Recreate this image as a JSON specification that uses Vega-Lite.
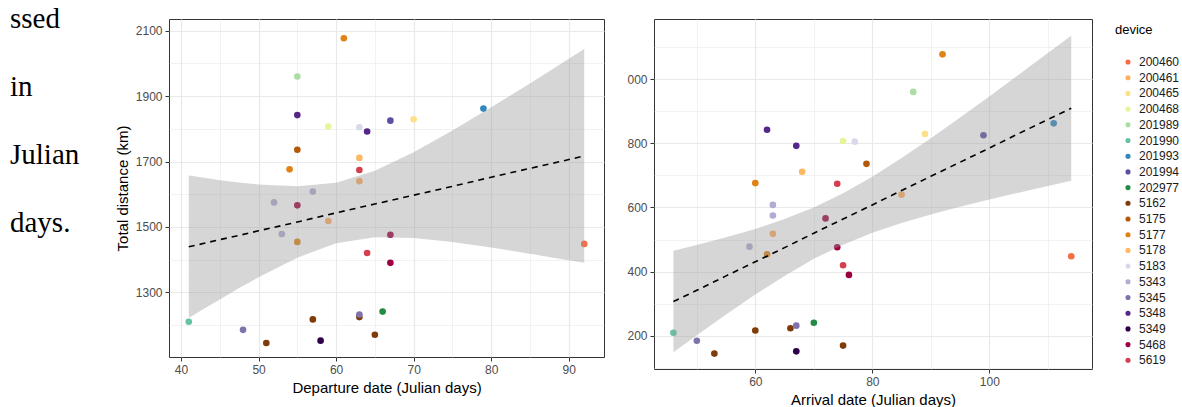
{
  "$schema": "https://vega.github.io/schema/vega-lite/v6.json",
  "padding": {"left": 10, "top": 5, "right": 5, "bottom": 5},
  "background": "white",
  "bounds": "flush",
  "spacing": 50,
  "config": {
    "font": "Liberation Sans",
    "view": {"stroke": "#333333", "strokeWidth": 1},
    "axis": {
      "domain": false,
      "labelColor": "#4d4d4d",
      "labelFontSize": 12,
      "labelFont": "Liberation Sans",
      "labelOverlap": false,
      "labelFlush": false,
      "labelPadding": 3,
      "titleFont": "Liberation Sans",
      "titleFontSize": 15,
      "titleFontWeight": "normal",
      "titleColor": "#000000",
      "titlePadding": 5,
      "tickColor": "#333333",
      "tickSize": 4,
      "gridColor": "#e9e9e9",
      "gridWidth": 1.2
    },
    "legend": {
      "titleFont": "Liberation Sans",
      "titleFontSize": 13,
      "titleFontWeight": "normal",
      "titleColor": "#000000",
      "labelFont": "Liberation Sans",
      "labelFontSize": 12,
      "labelColor": "#1a1a1a",
      "symbolType": "circle",
      "symbolSize": 26,
      "symbolStrokeWidth": 0,
      "padding": 5,
      "offset": 17,
      "rowPadding": 3.7,
      "labelOffset": 5,
      "symbolOffset": 7,
      "titlePadding": 19
    }
  },
  "datasets": {
    "txt": [
      {"line": 1, "t": "ssed"},
      {"line": 2, "t": "in"},
      {"line": 3, "t": "Julian"},
      {"line": 4, "t": "days."}
    ],
    "pts": [
      {"device": "5177", "dep": 61, "arr": 92, "dist": 2077},
      {"device": "201989", "dep": 55, "arr": 87, "dist": 1960},
      {"device": "5348", "dep": 55, "arr": 62, "dist": 1842},
      {"device": "200468", "dep": 59, "arr": 75, "dist": 1807},
      {"device": "5183", "dep": 63, "arr": 77, "dist": 1805},
      {"device": "5175", "dep": 55, "arr": 79, "dist": 1736},
      {"device": "5177", "dep": 54, "arr": 60, "dist": 1676},
      {"device": "5343", "dep": 57, "arr": 63, "dist": 1608},
      {"device": "5343", "dep": 52, "arr": 63, "dist": 1575},
      {"device": "5468", "dep": 55, "arr": 72, "dist": 1566},
      {"device": "200461", "dep": 59, "arr": 63, "dist": 1518},
      {"device": "5343", "dep": 53, "arr": 59, "dist": 1478},
      {"device": "5177", "dep": 55, "arr": 62, "dist": 1454},
      {"device": "201990", "dep": 41, "arr": 46, "dist": 1210},
      {"device": "5345", "dep": 48, "arr": 50, "dist": 1185},
      {"device": "5162", "dep": 51, "arr": 53, "dist": 1145},
      {"device": "5162", "dep": 57, "arr": 60, "dist": 1217},
      {"device": "5349", "dep": 58, "arr": 67, "dist": 1152},
      {"device": "5162", "dep": 63, "arr": 66, "dist": 1224},
      {"device": "5345", "dep": 63, "arr": 67, "dist": 1232},
      {"device": "5348", "dep": 64, "arr": 67, "dist": 1792},
      {"device": "201994", "dep": 67, "arr": 99, "dist": 1825},
      {"device": "200465", "dep": 70, "arr": 89, "dist": 1829},
      {"device": "201993", "dep": 79, "arr": 111, "dist": 1862},
      {"device": "5178", "dep": 63, "arr": 68, "dist": 1711},
      {"device": "5619", "dep": 63, "arr": 74, "dist": 1674},
      {"device": "200461", "dep": 63, "arr": 85, "dist": 1640},
      {"device": "5468", "dep": 67, "arr": 74, "dist": 1476},
      {"device": "5619", "dep": 64, "arr": 75, "dist": 1420},
      {"device": "5468", "dep": 67, "arr": 76, "dist": 1390},
      {"device": "202977", "dep": 66, "arr": 70, "dist": 1241},
      {"device": "5162", "dep": 65, "arr": 75, "dist": 1170},
      {"device": "200460", "dep": 92, "arr": 114, "dist": 1448}
    ],
    "bandL": [
      {"x": 41, "lo": 1221, "hi": 1657, "fit": 1439},
      {"x": 43, "lo": 1250, "hi": 1650, "fit": 1450},
      {"x": 45, "lo": 1278, "hi": 1643, "fit": 1461},
      {"x": 47.5, "lo": 1313, "hi": 1636, "fit": 1474},
      {"x": 50, "lo": 1346, "hi": 1630, "fit": 1488},
      {"x": 55, "lo": 1406, "hi": 1624, "fit": 1515},
      {"x": 60, "lo": 1450, "hi": 1635, "fit": 1543},
      {"x": 65, "lo": 1468, "hi": 1672, "fit": 1570},
      {"x": 70, "lo": 1466, "hi": 1728, "fit": 1597},
      {"x": 75, "lo": 1454, "hi": 1795, "fit": 1624},
      {"x": 80, "lo": 1437, "hi": 1866, "fit": 1652},
      {"x": 85, "lo": 1418, "hi": 1939, "fit": 1679},
      {"x": 88, "lo": 1406, "hi": 1984, "fit": 1695},
      {"x": 92, "lo": 1390, "hi": 2044, "fit": 1717}
    ],
    "bandR": [
      {"x": 46, "lo": 1149, "hi": 1465, "fit": 1307},
      {"x": 50, "lo": 1202, "hi": 1483, "fit": 1342},
      {"x": 55, "lo": 1267, "hi": 1507, "fit": 1387},
      {"x": 60, "lo": 1329, "hi": 1533, "fit": 1431},
      {"x": 65, "lo": 1387, "hi": 1564, "fit": 1475},
      {"x": 70, "lo": 1440, "hi": 1600, "fit": 1520},
      {"x": 75, "lo": 1484, "hi": 1644, "fit": 1564},
      {"x": 80, "lo": 1521, "hi": 1696, "fit": 1608},
      {"x": 85, "lo": 1552, "hi": 1754, "fit": 1653},
      {"x": 90, "lo": 1578, "hi": 1816, "fit": 1697},
      {"x": 95, "lo": 1602, "hi": 1880, "fit": 1741},
      {"x": 100, "lo": 1625, "hi": 1946, "fit": 1785},
      {"x": 105, "lo": 1646, "hi": 2013, "fit": 1830},
      {"x": 110, "lo": 1667, "hi": 2081, "fit": 1874},
      {"x": 114, "lo": 1683, "hi": 2135, "fit": 1909}
    ]
  },
  "resolve": {"scale": {"x": "independent", "y": "independent", "color": "shared"}},
  "hconcat": [
    {
      "width": 109,
      "height": 340,
      "view": {"stroke": null},
      "data": {"name": "txt"},
      "mark": {"type": "text", "align": "left", "baseline": "alphabetic", "font": "Liberation Serif", "fontSize": 29, "color": "#000000"},
      "encoding": {
        "x": {"datum": 0, "type": "quantitative", "scale": {"domain": [0, 1]}, "axis": null},
        "y": {"field": "line", "type": "quantitative", "scale": {"domain": [0.863, 5.863], "reverse": true, "nice": false, "zero": false}, "axis": null},
        "text": {"field": "t"}
      }
    },
    {
      "width": 435,
      "height": 338,
      "resolve": {"axis": {"x": "independent", "y": "independent"}},
      "layer": [
        {
          "data": {"name": "pts"},
          "mark": {"type": "circle", "size": 44, "opacity": 1},
          "encoding": {
            "x": {
              "field": "dep", "type": "quantitative",
              "scale": {"domain": [38.45, 94.55], "nice": false, "zero": false},
              "axis": {"title": "Departure date (Julian days)", "values": [40, 50, 60, 70, 80, 90], "orient": "bottom"}
            },
            "y": {
              "field": "dist", "type": "quantitative",
              "scale": {"domain": [1102, 2136], "nice": false, "zero": false},
              "axis": {"title": "Total distance (km)", "format": "d", "values": [1300, 1500, 1700, 1900, 2100], "orient": "left"}
            },
            "color": {
              "field": "device", "type": "nominal", "title": "device",
              "scale": {
                "domain": ["200460", "200461", "200465", "200468", "201989", "201990", "201993", "201994", "202977", "5162", "5175", "5177", "5178", "5183", "5343", "5345", "5348", "5349", "5468", "5619"],
                "range": ["#f46d43", "#fdae61", "#fee08b", "#e6f598", "#abdda4", "#66c2a5", "#3288bd", "#5e4fa2", "#238b45", "#7f3b08", "#b35806", "#e08214", "#fdb863", "#d8daeb", "#b2abd2", "#8073ac", "#542788", "#2d004b", "#9e0142", "#d53e4f"]
              }
            }
          }
        },
        {
          "data": {"name": "bandL"},
          "mark": {"type": "area", "color": "#999999", "opacity": 0.4},
          "encoding": {
            "x": {"field": "x", "type": "quantitative", "axis": {"orient": "top", "values": [45, 55, 65, 75, 85], "labels": false, "ticks": false, "domain": false, "title": null, "grid": true, "gridWidth": 0.6}},
            "y": {"field": "lo", "type": "quantitative", "axis": {"orient": "right", "values": [1200, 1400, 1600, 1800, 2000], "labels": false, "ticks": false, "domain": false, "title": null, "grid": true, "gridWidth": 0.6}},
            "y2": {"field": "hi"}
          }
        },
        {
          "data": {"name": "bandL"},
          "mark": {"type": "line", "color": "#000000", "strokeWidth": 1.6, "strokeDash": [6, 5]},
          "encoding": {
            "x": {"field": "x", "type": "quantitative", "axis": null},
            "y": {"field": "fit", "type": "quantitative", "axis": null}
          }
        }
      ]
    },
    {
      "width": 438,
      "height": 350,
      "resolve": {"axis": {"x": "independent", "y": "independent"}},
      "layer": [
        {
          "data": {"name": "pts"},
          "mark": {"type": "circle", "size": 44, "opacity": 1},
          "encoding": {
            "x": {
              "field": "arr", "type": "quantitative",
              "scale": {"domain": [42.68, 117.55], "nice": false, "zero": false},
              "axis": {"title": "Arrival date (Julian days)", "values": [60, 80, 100], "orient": "bottom"}
            },
            "y": {
              "field": "dist", "type": "quantitative",
              "scale": {"domain": [1097, 2187], "nice": false, "zero": false},
              "axis": {"title": null, "values": [1200, 1400, 1600, 1800, 2000], "orient": "left", "labelExpr": "substring(toString(datum.value), 1)"}
            },
            "color": {"field": "device", "type": "nominal", "title": "device"}
          }
        },
        {
          "data": {"name": "bandR"},
          "mark": {"type": "area", "color": "#999999", "opacity": 0.4},
          "encoding": {
            "x": {"field": "x", "type": "quantitative", "axis": {"orient": "top", "values": [50, 70, 90, 110], "labels": false, "ticks": false, "domain": false, "title": null, "grid": true, "gridWidth": 0.6}},
            "y": {"field": "lo", "type": "quantitative", "axis": {"orient": "right", "values": [1100, 1300, 1500, 1700, 1900, 2100], "labels": false, "ticks": false, "domain": false, "title": null, "grid": true, "gridWidth": 0.6}},
            "y2": {"field": "hi"}
          }
        },
        {
          "data": {"name": "bandR"},
          "mark": {"type": "line", "color": "#000000", "strokeWidth": 1.6, "strokeDash": [6, 5]},
          "encoding": {
            "x": {"field": "x", "type": "quantitative", "axis": null},
            "y": {"field": "fit", "type": "quantitative", "axis": null}
          }
        }
      ]
    }
  ]
}
